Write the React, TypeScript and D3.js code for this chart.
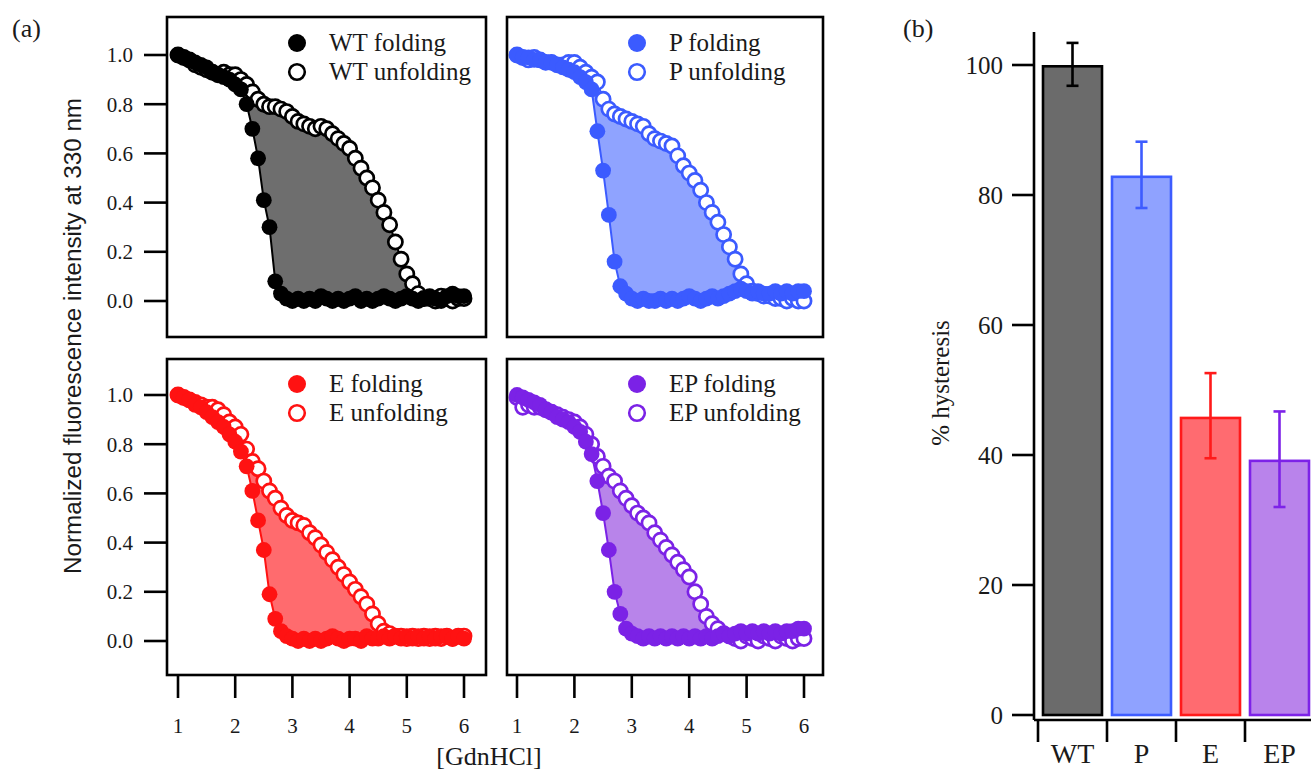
import React from "react";
import * as d3 from "d3";

// [GdnHCl] in M
const gdn = [
  1.0, 1.1, 1.2, 1.3, 1.4, 1.5, 1.6, 1.7, 1.8, 1.9, 2.0, 2.1, 2.2, 2.3, 2.4, 2.5, 2.6, 2.7, 2.8, 2.9,
  3.0, 3.1, 3.2, 3.3, 3.4, 3.5, 3.6, 3.7, 3.8, 3.9, 4.0, 4.1, 4.2, 4.3, 4.4, 4.5, 4.6, 4.7, 4.8, 4.9,
  5.0, 5.1, 5.2, 5.3, 5.4, 5.5, 5.6, 5.7, 5.8, 5.9, 6.0,
];

const wtFolding = [
  1.0, 0.99, 0.98, 0.97, 0.96, 0.95, 0.93, 0.92, 0.91, 0.9, 0.88, 0.86, 0.8, 0.7, 0.58, 0.41, 0.3, 0.08, 0.03, 0.01,
  0.0, 0.01, 0.0, 0.01, 0.0, 0.02, 0.01, 0.0, 0.01, 0.0, 0.01, 0.02, 0.0, 0.01, 0.0, 0.01, 0.02, 0.01, 0.0, 0.01,
  0.02, 0.01, 0.0, 0.01, 0.02, 0.01, 0.0, 0.02, 0.03, 0.02, 0.02,
];
const wtUnfolding = [
  1.0, 0.99, 0.98, 0.96, 0.95, 0.94, 0.93, 0.92, 0.93, 0.92, 0.92, 0.9, 0.88, 0.85, 0.82, 0.8, 0.79, 0.79, 0.78, 0.77,
  0.75, 0.73, 0.72, 0.71, 0.7, 0.71, 0.7, 0.68, 0.66, 0.64, 0.62, 0.58, 0.54, 0.5, 0.46, 0.41, 0.36, 0.31, 0.24, 0.17,
  0.11, 0.07, 0.03, 0.01, 0.01, 0.0, 0.02, 0.01, 0.0, 0.01, 0.01,
];
const pFolding = [
  1.0, 0.99, 0.99, 0.98, 0.98, 0.97, 0.97, 0.96, 0.95, 0.94, 0.93, 0.91, 0.89, 0.86, 0.69, 0.53, 0.35, 0.16, 0.06, 0.03,
  0.01, 0.0, 0.01, 0.0, 0.0, 0.01, 0.0, 0.01, 0.0, 0.01, 0.02, 0.01, 0.0, 0.01, 0.02, 0.01, 0.02, 0.03, 0.04, 0.05,
  0.04, 0.03, 0.04, 0.03, 0.03, 0.04, 0.03, 0.04, 0.03, 0.04, 0.04,
];
const pUnfolding = [
  1.0, 0.99, 0.98, 0.99, 0.98, 0.97, 0.97, 0.96, 0.96, 0.97, 0.97, 0.95, 0.93, 0.91, 0.89, 0.82, 0.78, 0.76, 0.75, 0.74,
  0.73, 0.72, 0.71, 0.68, 0.66, 0.65, 0.64, 0.63, 0.59, 0.55, 0.52, 0.49, 0.45, 0.4, 0.36, 0.32, 0.27, 0.22, 0.17, 0.11,
  0.07, 0.04, 0.03, 0.02, 0.02, 0.01, 0.01, 0.0, 0.01, 0.0, 0.0,
];
const eFolding = [
  1.0, 0.99, 0.98, 0.96, 0.95, 0.93, 0.91, 0.89, 0.87, 0.84, 0.81, 0.77, 0.71, 0.61, 0.49, 0.37, 0.19, 0.09, 0.04, 0.02,
  0.01, 0.0, 0.01, 0.0, 0.01, 0.0, 0.01, 0.02, 0.01, 0.0, 0.01, 0.01, 0.0, 0.02, 0.01, 0.01, 0.02, 0.01, 0.02, 0.01,
  0.02, 0.01, 0.02, 0.01, 0.02, 0.01, 0.02, 0.02, 0.01, 0.02, 0.01,
];
const eUnfolding = [
  1.0, 0.99, 0.98, 0.97, 0.96, 0.95, 0.95, 0.94, 0.92, 0.89, 0.87, 0.84, 0.78, 0.73, 0.7, 0.65, 0.61, 0.58, 0.54, 0.51,
  0.49, 0.48, 0.47, 0.44, 0.42, 0.39, 0.36, 0.33, 0.3, 0.27, 0.24, 0.21, 0.18, 0.15, 0.11, 0.07, 0.04, 0.03, 0.02, 0.02,
  0.01, 0.02, 0.01, 0.02, 0.01, 0.02, 0.01, 0.02, 0.01, 0.02, 0.02,
];
const epFolding = [
  1.0, 0.99, 0.98, 0.97, 0.96, 0.94, 0.93, 0.91, 0.9, 0.89, 0.87, 0.85, 0.81, 0.76, 0.65, 0.52, 0.37, 0.2, 0.11, 0.05,
  0.03, 0.02, 0.01, 0.02, 0.01, 0.02, 0.01, 0.02, 0.01, 0.02, 0.01, 0.02, 0.01, 0.02, 0.01, 0.02, 0.03, 0.02, 0.03, 0.04,
  0.03, 0.04, 0.03, 0.04, 0.03, 0.04, 0.03, 0.04, 0.04, 0.05, 0.05,
];
const epUnfolding = [
  0.99, 0.95, 0.96, 0.95, 0.95, 0.94, 0.93, 0.92, 0.91, 0.9, 0.89, 0.87, 0.84, 0.8, 0.75, 0.71, 0.67, 0.65, 0.61, 0.58,
  0.55, 0.52, 0.5, 0.48, 0.44, 0.41, 0.38, 0.35, 0.32, 0.29, 0.26, 0.2, 0.15, 0.1, 0.07, 0.05, 0.03, 0.02, 0.01, 0.0,
  0.02, 0.01, 0.0, 0.02, 0.01, 0.0, 0.02, 0.01, 0.0, 0.01, 0.01,
];

const variants = ["WT", "P", "E", "EP"];
const foldingSeries = [wtFolding, pFolding, eFolding, epFolding];
const unfoldingSeries = [wtUnfolding, pUnfolding, eUnfolding, epUnfolding];
const markColors = ["#000000", "#3b5bff", "#ff1212", "#7b22e6"];
const areaColors = ["#6e6e6e", "#8fa3ff", "#ff6b6e", "#b884ea"];

const fracTicks = [0, 0.2, 0.4, 0.6, 0.8, 1.0];
const gdnTicks = [1, 2, 3, 4, 5, 6];

// panel (b)
const hysteresis = [99.8, 82.8, 45.7, 39.1];
const errUpper = [103.4, 88.2, 52.6, 46.7];
const errLower = [96.8, 78.0, 39.5, 32.0];
const hystTicks = [0, 20, 40, 60, 80, 100];
const barFills = ["#6b6b6b", "#8fa2ff", "#ff6b70", "#b983eb"];
const barStrokes = ["#000000", "#3d5cff", "#ff1a1a", "#7d22e8"];

const serif = "'Liberation Serif', 'Times New Roman', serif";
const sans = "'Liberation Sans', Arial, sans-serif";
const ink = "#1a1a1a";

const cols = [
  { left: 167, right: 486, x0: 178, x1: 464 },
  { left: 507, right: 823, x0: 517, x1: 804 },
];
const rows = [
  { top: 17, bottom: 337, y0: 301, y1: 55 },
  { top: 359, bottom: 675, y0: 641, y1: 395 },
];

function Panel({ i }: { i: number }) {
  const col = cols[i % 2];
  const row = rows[Math.floor(i / 2)];
  const x = d3.scaleLinear().domain([1, 6]).range([col.x0, col.x1]);
  const y = d3.scaleLinear().domain([0, 1]).range([row.y0, row.y1]);
  const fold = foldingSeries[i];
  const unf = unfoldingSeries[i];
  const color = markColors[i];

  const area = d3
    .area<number>()
    .x((d) => x(d))
    .y0((_, k) => y(fold[k]))
    .y1((_, k) => y(Math.max(fold[k], unf[k])));
  const line = (vals: number[]) =>
    d3
      .line<number>()
      .x((d) => x(d))
      .y((_, k) => y(vals[k]))(gdn) as string;

  const showY = i % 2 === 0;
  const showX = i >= 2;
  const lx = col.left + 130;
  const ly = row.top + (i >= 2 ? 25 : 26);

  return (
    <g>
      <path d={area(gdn) as string} fill={areaColors[i]} />
      <path d={line(fold)} fill="none" stroke={color} strokeWidth={2} />
      <path d={line(unf)} fill="none" stroke={color} strokeWidth={2} />
      {gdn.map((g, k) => (
        <circle key={"u" + k} cx={x(g)} cy={y(unf[k])} r={7.1} fill="#fff" stroke={color} strokeWidth={2.7} />
      ))}
      {gdn.map((g, k) => (
        <circle key={"f" + k} cx={x(g)} cy={y(fold[k])} r={7.9} fill={color} />
      ))}
      <rect
        x={col.left}
        y={row.top}
        width={col.right - col.left}
        height={row.bottom - row.top}
        fill="none"
        stroke="#000"
        strokeWidth={2.6}
      />
      {/* legend */}
      <circle cx={lx} cy={ly} r={9} fill={color} />
      <circle cx={lx} cy={ly + 29} r={7.8} fill="#fff" stroke={color} strokeWidth={2.6} />
      <text x={col.left + 162} y={ly + 8} fontFamily={serif} fontSize={25} fill={ink}>
        {variants[i]} folding
      </text>
      <text x={col.left + 162} y={ly + 37} fontFamily={serif} fontSize={25} fill={ink}>
        {variants[i]} unfolding
      </text>
      {showY &&
        fracTicks.map((t) => (
          <g key={t}>
            <line x1={col.left - 23} x2={col.left} y1={y(t)} y2={y(t)} stroke="#000" strokeWidth={2.6} />
            <text
              x={col.left - 34}
              y={y(t)}
              dy="0.35em"
              textAnchor="end"
              fontFamily={serif}
              fontSize={21}
              fill={ink}
            >
              {t.toFixed(1)}
            </text>
          </g>
        ))}
      {showX &&
        gdnTicks.map((t) => (
          <g key={t}>
            <line x1={x(t)} x2={x(t)} y1={row.bottom} y2={row.bottom + 23} stroke="#000" strokeWidth={2.6} />
            <text x={x(t)} y={733} textAnchor="middle" fontFamily={serif} fontSize={21} fill={ink}>
              {t}
            </text>
          </g>
        ))}
    </g>
  );
}

function HysteresisBars() {
  const x = d3
    .scaleBand<string>()
    .domain(variants)
    .range([1038, 1314])
    .paddingInner(0.145)
    .paddingOuter(0.0725);
  const y = d3.scaleLinear().domain([0, 100]).range([715, 65]);
  const gap = (x.step() * 0.145) / 2;
  const axisX = 1034;
  const axisY = 720;
  return (
    <g>
      {variants.map((v, i) => {
        const bx = x(v) as number;
        const cx = bx + x.bandwidth() / 2;
        return (
          <g key={v}>
            <rect
              x={bx}
              y={y(hysteresis[i])}
              width={x.bandwidth()}
              height={y(0) - y(hysteresis[i])}
              fill={barFills[i]}
              stroke={barStrokes[i]}
              strokeWidth={2.6}
            />
            <line x1={cx} x2={cx} y1={y(errUpper[i])} y2={y(errLower[i])} stroke={barStrokes[i]} strokeWidth={2.6} />
            <line x1={cx - 6} x2={cx + 6} y1={y(errUpper[i])} y2={y(errUpper[i])} stroke={barStrokes[i]} strokeWidth={2.6} />
            <line x1={cx - 6} x2={cx + 6} y1={y(errLower[i])} y2={y(errLower[i])} stroke={barStrokes[i]} strokeWidth={2.6} />
            <line x1={bx - gap} x2={bx - gap} y1={axisY} y2={axisY + 22} stroke="#000" strokeWidth={2.6} />
            <text x={cx} y={763} textAnchor="middle" fontFamily={serif} fontSize={28} fill={ink}>
              {v}
            </text>
          </g>
        );
      })}
      <line x1={axisX} x2={axisX} y1={32} y2={axisY} stroke="#000" strokeWidth={2.6} />
      <line x1={axisX} x2={1311} y1={axisY} y2={axisY} stroke="#000" strokeWidth={2.6} />
      {hystTicks.map((t) => (
        <g key={t}>
          <line x1={axisX - 22} x2={axisX} y1={y(t)} y2={y(t)} stroke="#000" strokeWidth={2.6} />
          <text x={1003} y={y(t)} dy="0.35em" textAnchor="end" fontFamily={serif} fontSize={25} fill={ink}>
            {t}
          </text>
        </g>
      ))}
      <text
        transform="translate(949,383) rotate(-90)"
        textAnchor="middle"
        fontFamily={serif}
        fontSize={25}
        fill={ink}
      >
        % hysteresis
      </text>
    </g>
  );
}

export default function App() {
  return (
    <svg
      width={1311}
      height={770}
      style={{ position: "absolute", left: 0, top: 0, background: "#fff" }}
    >
      <text x={12} y={37} fontFamily={serif} fontSize={26} fill={ink}>
        (a)
      </text>
      <text x={903} y={37} fontFamily={serif} fontSize={26} fill={ink}>
        (b)
      </text>
      <text
        transform="translate(81,336) rotate(-90)"
        textAnchor="middle"
        fontFamily={sans}
        fontSize={23}
        textLength={476}
        lengthAdjust="spacingAndGlyphs"
        fill={ink}
      >
        Normalized fluorescence intensity at 330 nm
      </text>
      {[0, 1, 2, 3].map((i) => (
        <Panel key={i} i={i} />
      ))}
      <text x={489} y={765} textAnchor="middle" fontFamily={serif} fontSize={26} fill={ink}>
        [GdnHCl]
      </text>
      <HysteresisBars />
    </svg>
  );
}
